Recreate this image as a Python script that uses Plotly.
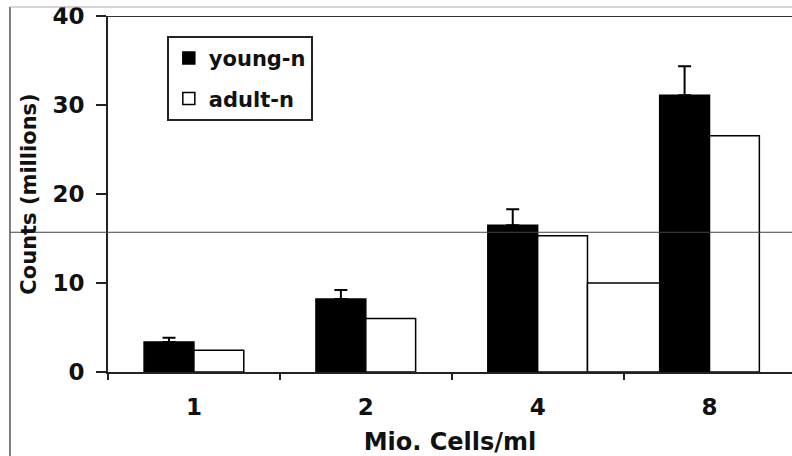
import plotly.graph_objects as go

categories = ["1", "2", "4", "8"]
young = [3.37, 8.2, 16.5, 31.1]
young_err = [0.48, 1.0, 1.78, 3.26]
adult = [2.44, 6.0, 15.3, 26.55]
# stray open bar drawn between the "4" and "8" groups in the original
extra_x = [2.5]
extra = [10.0]
# stray horizontal rule across the figure
stray_line_y = 15.7

pos = list(range(len(categories)))
bw = 0.29
FONT = "DejaVu Sans"
INK = "#111111"

fig = go.Figure()
fig.add_trace(go.Bar(
    x=pos, y=young, name="young-n", width=bw, offset=-bw,
    marker=dict(color="black", line=dict(color="black", width=1.5)),
    error_y=dict(type="data", array=young_err, arrayminus=[0]*len(young),
                 symmetric=False, color="black", thickness=2, width=6.5),
    legendgroup="a",
))
fig.add_trace(go.Bar(
    x=pos, y=adult, name="adult-n", width=bw, offset=0,
    marker=dict(color="white", line=dict(color="black", width=1.5)),
    legendgroup="b",
))
fig.add_trace(go.Bar(
    x=extra_x, y=extra, width=1 - 2 * bw, offset=-(1 - 2 * bw) / 2,
    marker=dict(color="white", line=dict(color="black", width=1.5)),
    showlegend=False, hoverinfo="skip",
))

fig.update_layout(
    width=792, height=456,
    margin=dict(l=108, r=0, t=16, b=84),
    paper_bgcolor="white", plot_bgcolor="white",
    barmode="overlay",
    font=dict(family=FONT, color=INK, size=22, weight="bold"),
    showlegend=True,
    legend=dict(
        x=0.086, y=0.944, xanchor="left", yanchor="top",
        bgcolor="white", bordercolor="#222222", borderwidth=2,
        font=dict(family=FONT, size=21, color=INK, weight="bold"),
        tracegroupgap=10, traceorder="grouped",
    ),
    xaxis=dict(
        range=[-0.5, 3.48], tickmode="array", tickvals=pos, ticktext=categories,
        ticks="", showgrid=False, zeroline=False,
        showline=True, linecolor="#222222", linewidth=2,
        tickfont=dict(family=FONT, size=23, color=INK, weight="bold"),
        ticklabelstandoff=13,
        minor=dict(tickmode="array", tickvals=[-0.5, 0.5, 1.5, 2.5],
                   ticks="outside", ticklen=6, tickwidth=2, tickcolor="#222222",
                   showgrid=False),
        title=dict(text="Mio. Cells/ml", font=dict(family=FONT, size=24, color=INK, weight="bold"),
                   standoff=18),
    ),
    yaxis=dict(
        range=[0, 40], tickmode="array", tickvals=[0, 10, 20, 30, 40],
        ticks="outside", ticklen=10, tickwidth=2, tickcolor="#222222",
        showgrid=False, zeroline=False,
        showline=True, linecolor="#222222", linewidth=2,
        tickfont=dict(family=FONT, size=23, color=INK, weight="bold"),
        ticklabelstandoff=7,
        title=dict(text="Counts (millions)", font=dict(family=FONT, size=21, color=INK, weight="bold"),
                   standoff=10),
    ),
)

# top frame line at 40
fig.add_shape(type="line", xref="paper", yref="y", x0=0, x1=1, y0=40, y1=40,
              line=dict(color="#333333", width=2))
# stray horizontal rule
fig.add_shape(type="line", xref="paper", yref="y", x0=-0.1433, x1=1,
              y0=stray_line_y, y1=stray_line_y, line=dict(color="#444444", width=1))
# outer scan frame (left and top)
fig.add_shape(type="line", xref="paper", yref="paper", x0=-0.1433, x1=-0.1433,
              y0=-0.3, y1=1.0253, line=dict(color="#555555", width=1.5))
fig.add_shape(type="line", xref="paper", yref="paper", x0=-0.1433, x1=1.01,
              y0=1.0253, y1=1.0253, line=dict(color="#aaaaaa", width=1))

fig.write_html("out.html")
